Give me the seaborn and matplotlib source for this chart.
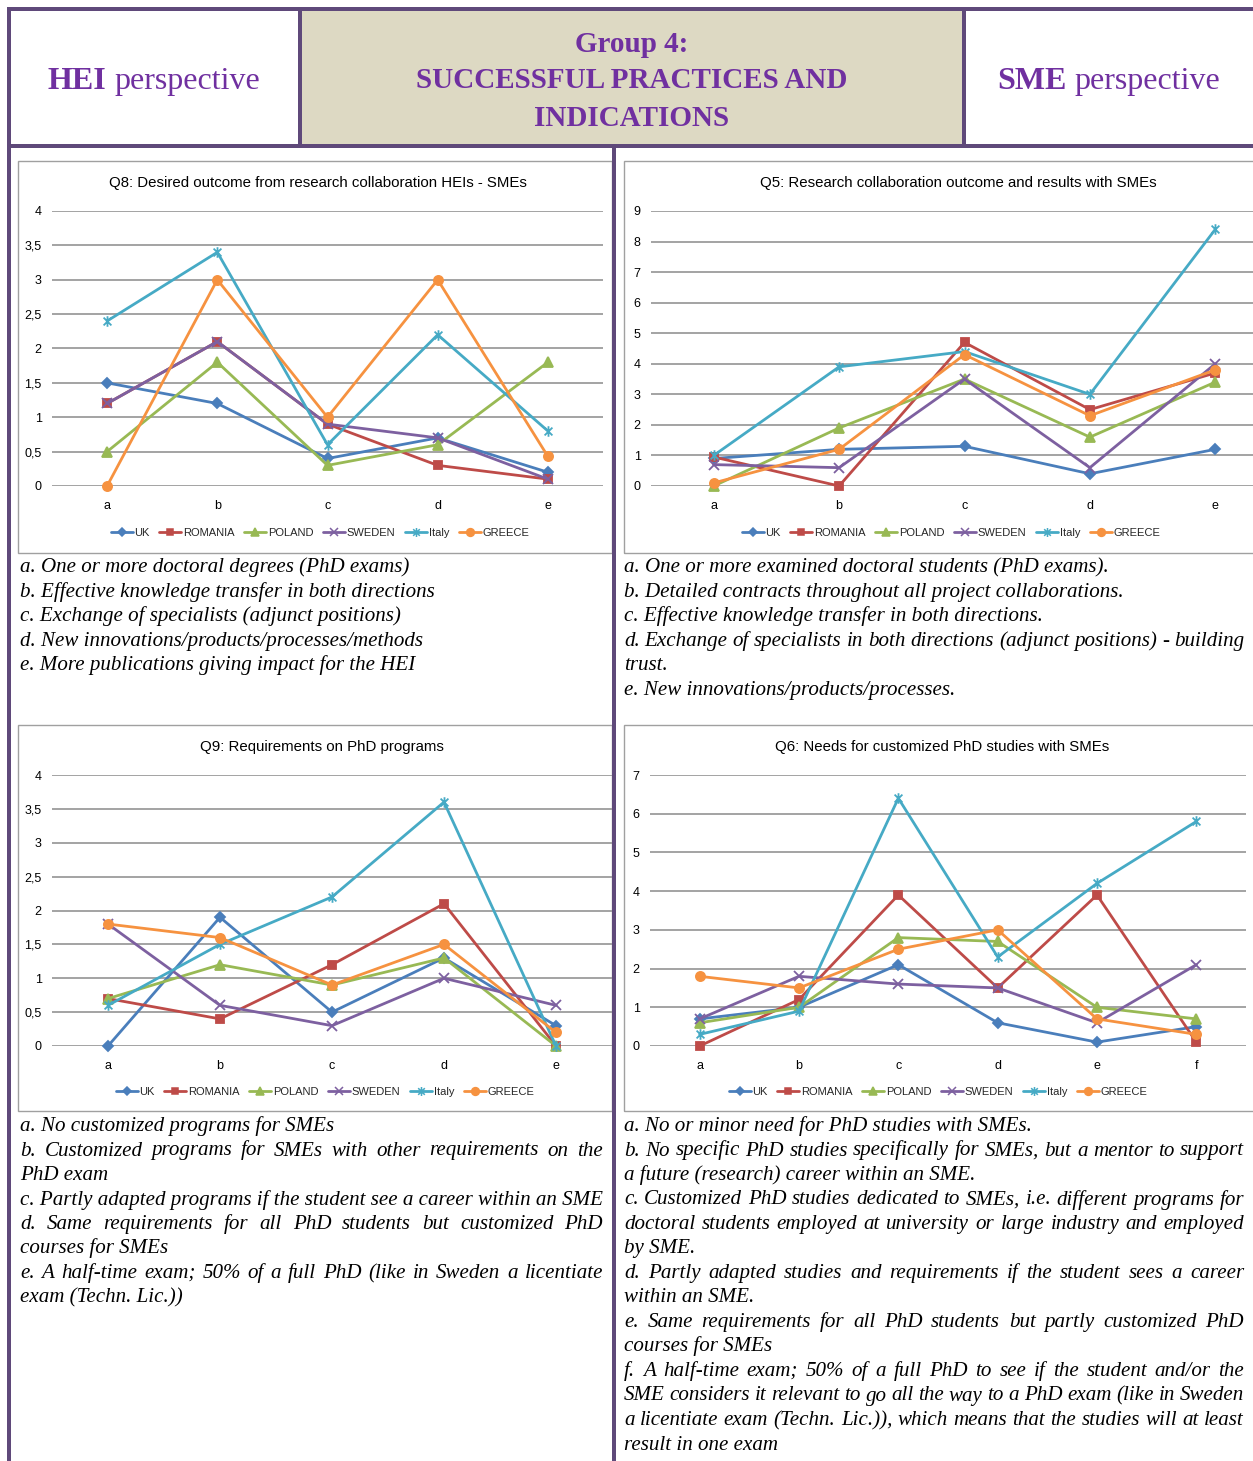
import numpy as np
import matplotlib
matplotlib.use("Agg")
import matplotlib.pyplot as plt
from matplotlib.patches import Rectangle
from matplotlib.lines import Line2D
from matplotlib.path import Path
from matplotlib.font_manager import FontProperties
import seaborn as sns

# ---------------- data ----------------
countries = ["UK", "ROMANIA", "POLAND", "SWEDEN", "Italy", "GREECE"]

# Q8 (HEI): desired outcome from research collaboration
q8_items = ["a", "b", "c", "d", "e"]
q8_uk = [1.5, 1.2, 0.4, 0.7, 0.2]
q8_romania = [1.2, 2.1, 0.9, 0.3, 0.1]
q8_poland = [0.5, 1.8, 0.3, 0.6, 1.8]
q8_sweden = [1.2, 2.1, 0.9, 0.7, 0.1]
q8_italy = [2.4, 3.4, 0.6, 2.2, 0.8]
q8_greece = [0.0, 3.0, 1.0, 3.0, 0.43]

# Q5 (SME): research collaboration outcome and results
q5_items = ["a", "b", "c", "d", "e"]
q5_uk = [0.9, 1.2, 1.3, 0.4, 1.2]
q5_romania = [0.95, 0.0, 4.7, 2.5, 3.7]
q5_poland = [0.0, 1.9, 3.5, 1.6, 3.4]
q5_sweden = [0.7, 0.6, 3.5, 0.6, 4.0]
q5_italy = [1.0, 3.9, 4.4, 3.0, 8.4]
q5_greece = [0.1, 1.2, 4.3, 2.3, 3.8]

# Q9 (HEI): requirements on PhD programs
q9_items = ["a", "b", "c", "d", "e"]
q9_uk = [0.0, 1.9, 0.5, 1.3, 0.3]
q9_romania = [0.7, 0.4, 1.2, 2.1, 0.0]
q9_poland = [0.7, 1.2, 0.9, 1.3, 0.0]
q9_sweden = [1.8, 0.6, 0.3, 1.0, 0.6]
q9_italy = [0.6, 1.5, 2.2, 3.6, 0.0]
q9_greece = [1.8, 1.6, 0.9, 1.5, 0.2]

# Q6 (SME): needs for customized PhD studies
q6_items = ["a", "b", "c", "d", "e", "f"]
q6_uk = [0.7, 1.0, 2.1, 0.6, 0.1, 0.5]
q6_romania = [0.0, 1.2, 3.9, 1.5, 3.9, 0.1]
q6_poland = [0.6, 1.0, 2.8, 2.7, 1.0, 0.7]
q6_sweden = [0.7, 1.8, 1.6, 1.5, 0.6, 2.1]
q6_italy = [0.3, 0.9, 6.4, 2.3, 4.2, 5.8]
q6_greece = [1.8, 1.5, 2.5, 3.0, 0.7, 0.3]

q8_title = "Q8: Desired outcome from research collaboration HEIs - SMEs"
q5_title = "Q5: Research collaboration outcome and results with SMEs"
q9_title = "Q9: Requirements on PhD programs"
q6_title = "Q6: Needs for customized PhD studies with SMEs"

header_left = ("HEI", "perspective")
header_right = ("SME", "perspective")
header_center = ["Group 4:", "SUCCESSFUL PRACTICES AND", "INDICATIONS"]

q8_notes = [
    ["a. One or more doctoral degrees (PhD exams)"],
    ["b. Effective knowledge transfer in both directions"],
    ["c. Exchange of specialists (adjunct positions)"],
    ["d. New innovations/products/processes/methods"],
    ["e. More publications giving impact for the HEI"],
]
q5_notes = [
    ["a. One or more examined doctoral students (PhD exams)."],
    ["b. Detailed contracts throughout all project collaborations."],
    ["c. Effective knowledge transfer in both directions."],
    ["d. Exchange of specialists in both directions (adjunct positions) - building",
     "trust."],
    ["e. New innovations/products/processes."],
]
q9_notes = [
    ["a. No customized programs for SMEs"],
    ["b. Customized programs for SMEs with other requirements on the",
     "PhD exam"],
    ["c. Partly adapted programs if the student see a career within an SME"],
    ["d. Same requirements for all PhD students but customized PhD",
     "courses for SMEs"],
    ["e. A half-time exam; 50% of a full PhD (like in Sweden a licentiate",
     "exam (Techn. Lic.))"],
]
q6_notes = [
    ["a. No or minor need for PhD studies with SMEs."],
    ["b. No specific PhD studies specifically for SMEs, but a mentor to support",
     "a future (research) career within an SME."],
    ["c. Customized PhD studies dedicated to SMEs, i.e. different programs for",
     "doctoral students employed at university or large industry and employed",
     "by SME."],
    ["d. Partly adapted studies and requirements if the student sees a career",
     "within an SME."],
    ["e. Same requirements for all PhD students but partly customized PhD",
     "courses for SMEs"],
    ["f. A half-time exam; 50% of a full PhD to see if the student and/or the",
     "SME considers it relevant to go all the way to a PhD exam (like in Sweden",
     "a licentiate exam (Techn. Lic.)), which means that the studies will at least",
     "result in one exam"],
]

# ---------------- style ----------------
sns.set_style("white")
chart_font = ["Liberation Sans Narrow", "Liberation Sans", "DejaVu Sans"]
plt.rcParams["font.family"] = chart_font

W, H = 1253, 1461
DPI = 100
PURPLE_LINE = "#5f497a"
PURPLE_TEXT = "#7030a0"
BEIGE = "#ddd9c3"
BOX_GREY = "#a0a0a0"
GRID_GREY = "#8a8a8a"

colors = {"UK": "#4a7ebb", "ROMANIA": "#be4b48", "POLAND": "#98b954",
          "SWEDEN": "#7d60a0", "Italy": "#46aac5", "GREECE": "#f69240"}
star = Path([(-1, -1), (1, 1), (-1, 1), (1, -1), (0, -1.35), (0, 1.35)],
            [Path.MOVETO, Path.LINETO] * 3)
markers = {"UK": "D", "ROMANIA": "s", "POLAND": "^", "SWEDEN": "x",
           "Italy": star, "GREECE": "o"}
msizes = {"UK": 5.2, "ROMANIA": 5.8, "POLAND": 6.6, "SWEDEN": 6.6,
          "Italy": 7.6, "GREECE": 6.6}

fig = plt.figure(figsize=(W / DPI, H / DPI), dpi=DPI)
fig.patch.set_facecolor("white")
renderer = fig.canvas.get_renderer()


def fx(x):
    return x / W


def fy(y):
    return 1 - y / H


def rect_px(x0, y0, x1, y1, face="none", edge="none", lw=0, z=1):
    fig.add_artist(Rectangle((fx(x0), fy(y1)), (x1 - x0) / W, (y1 - y0) / H,
                             transform=fig.transFigure, facecolor=face,
                             edgecolor=edge, linewidth=lw, zorder=z))


def text_width(s, prop):
    w, _, _ = renderer.get_text_width_height_descent(s, prop, ismath=False)
    return w


# ---------------- frame of the table ----------------
rect_px(302, 11, 962, 144, face=BEIGE, z=0)
for (x0, y0, x1, y1) in [(7, 7, 1253, 11), (7, 144, 1253, 148), (7, 7, 11, 1461),
                         (298, 7, 302, 148), (962, 7, 966, 148), (612, 144, 616, 1461)]:
    rect_px(x0, y0, x1, y1, face=PURPLE_LINE, z=10)

# chart boxes
for (x0, y0, x1, y1) in [(18, 161, 612, 553), (624, 161, 1300, 553),
                         (18, 725, 612, 1111), (624, 725, 1300, 1111)]:
    rect_px(x0, y0, x1, y1, edge=BOX_GREY, lw=1.0, z=2)

# ---------------- header ----------------
serif = ["Liberation Serif", "DejaVu Serif"]
side_bold = FontProperties(family=serif, weight="bold", size=23)
side_reg = FontProperties(family=serif, weight="normal", size=23)
center_bold = FontProperties(family=serif, weight="bold", size=21)


def header_pair(cx, cy, pair):
    b, r = pair
    wb = text_width(b, side_bold)
    ws = text_width(" ", side_reg)
    wr = text_width(r, side_reg)
    x0 = cx - (wb + ws + wr) / 2
    fig.text(fx(x0), fy(cy), b, fontproperties=side_bold, color=PURPLE_TEXT,
             ha="left", va="center_baseline", zorder=11)
    fig.text(fx(x0 + wb + ws), fy(cy), r, fontproperties=side_reg,
             color=PURPLE_TEXT, ha="left", va="center_baseline", zorder=11)


header_pair(154, 78, header_left)
header_pair(1109, 78, header_right)
for i, line in enumerate(header_center):
    fig.text(fx(632), fy(41 + i * 37), line, fontproperties=center_bold,
             color=PURPLE_TEXT, ha="center", va="center_baseline", zorder=11)


# ---------------- charts ----------------
def draw_chart(box, items, series, ymax, ystep, comma, title, title_xy, legend_xy):
    l, t, r, b = box
    ax = fig.add_axes([fx(l), fy(b), (r - l) / W, (b - t) / H])
    ax.set_facecolor("none")
    x = np.arange(len(items))
    for name in countries:
        c = colors[name]
        sns.lineplot(x=x, y=series[name], ax=ax, color=c, marker=markers[name],
                     markersize=msizes[name], mec=c, mfc=c, mew=1.3, lw=2.0,
                     clip_on=False, legend=False, zorder=3)
    ax.set_xlim(-0.5, len(items) - 0.5)
    ax.set_ylim(0, ymax)
    ticks = np.arange(0, ymax + 1e-9, ystep)
    if comma:
        labels = [("%g" % v).replace(".", ",") for v in ticks]
    else:
        labels = ["%d" % v for v in ticks]
    ax.set_yticks(ticks, labels)
    ax.set_xticks(x, items)
    ax.grid(axis="y", color=GRID_GREY, lw=1.1)
    ax.grid(axis="x", visible=False)
    ax.set_axisbelow(True)
    for s in ax.spines.values():
        s.set_visible(False)
    ax.tick_params(axis="both", length=0, labelsize=9.0, colors="black")
    ax.tick_params(axis="y", pad=7.5)
    ax.tick_params(axis="x", pad=10)
    ax.set_xlabel("")
    ax.set_ylabel("")
    fig.text(fx(title_xy[0]), fy(title_xy[1]), title, ha="center", va="center",
             fontsize=10.8, color="black")
    handles = [Line2D([], [], color=colors[n], marker=markers[n],
                      markersize=msizes[n] * 0.85, mec=colors[n], mfc=colors[n],
                      mew=1.1, lw=2.0) for n in countries]
    fig.legend(handles, countries, loc="center",
               bbox_to_anchor=(fx(legend_xy[0]), fy(legend_xy[1])),
               bbox_transform=fig.transFigure, ncol=6, frameon=False,
               fontsize=8, handlelength=2.0, handletextpad=0.15,
               columnspacing=0.85, borderpad=0)
    return ax


draw_chart((52, 211, 603, 486), q8_items,
           dict(zip(countries, [q8_uk, q8_romania, q8_poland, q8_sweden, q8_italy, q8_greece])),
           4, 0.5, True, q8_title, (318, 183), (320, 533))
draw_chart((651, 211, 1278, 486), q5_items,
           dict(zip(countries, [q5_uk, q5_romania, q5_poland, q5_sweden, q5_italy, q5_greece])),
           9, 1, False, q5_title, (958, 183), (951, 533))
draw_chart((52, 775, 612, 1046), q9_items,
           dict(zip(countries, [q9_uk, q9_romania, q9_poland, q9_sweden, q9_italy, q9_greece])),
           4, 0.5, True, q9_title, (322, 747), (325, 1092))
draw_chart((650, 775, 1246, 1046), q6_items,
           dict(zip(countries, [q6_uk, q6_romania, q6_poland, q6_sweden, q6_italy, q6_greece])),
           7, 1, False, q6_title, (942, 747), (938, 1092))

# ---------------- notes under the charts ----------------
note_font = FontProperties(family=serif, style="italic", size=15.1)
LINE_STEP = 24.5


def draw_notes(paras, x0, x1, y_base):
    y = y_base
    space_w = text_width(" ", note_font)
    for para in paras:
        for k, line in enumerate(para):
            last = k == len(para) - 1
            words = line.split(" ")
            if last or len(words) < 2:
                fig.text(fx(x0), fy(y), line, fontproperties=note_font,
                         ha="left", va="baseline", color="black", zorder=5)
            else:
                widths = [text_width(wd, note_font) for wd in words]
                gap = (x1 - x0 - sum(widths)) / (len(words) - 1)
                gap = max(gap, 0.6 * space_w)
                xc = x0
                for wd, ww in zip(words, widths):
                    fig.text(fx(xc), fy(y), wd, fontproperties=note_font,
                             ha="left", va="baseline", color="black", zorder=5)
                    xc += ww + gap
            y += LINE_STEP


draw_notes(q8_notes, 20, 603, 572)
draw_notes(q5_notes, 624, 1244, 572)
draw_notes(q9_notes, 20, 603, 1131)
draw_notes(q6_notes, 624, 1244, 1131)

fig.savefig("out.png", dpi=DPI, facecolor="white")
